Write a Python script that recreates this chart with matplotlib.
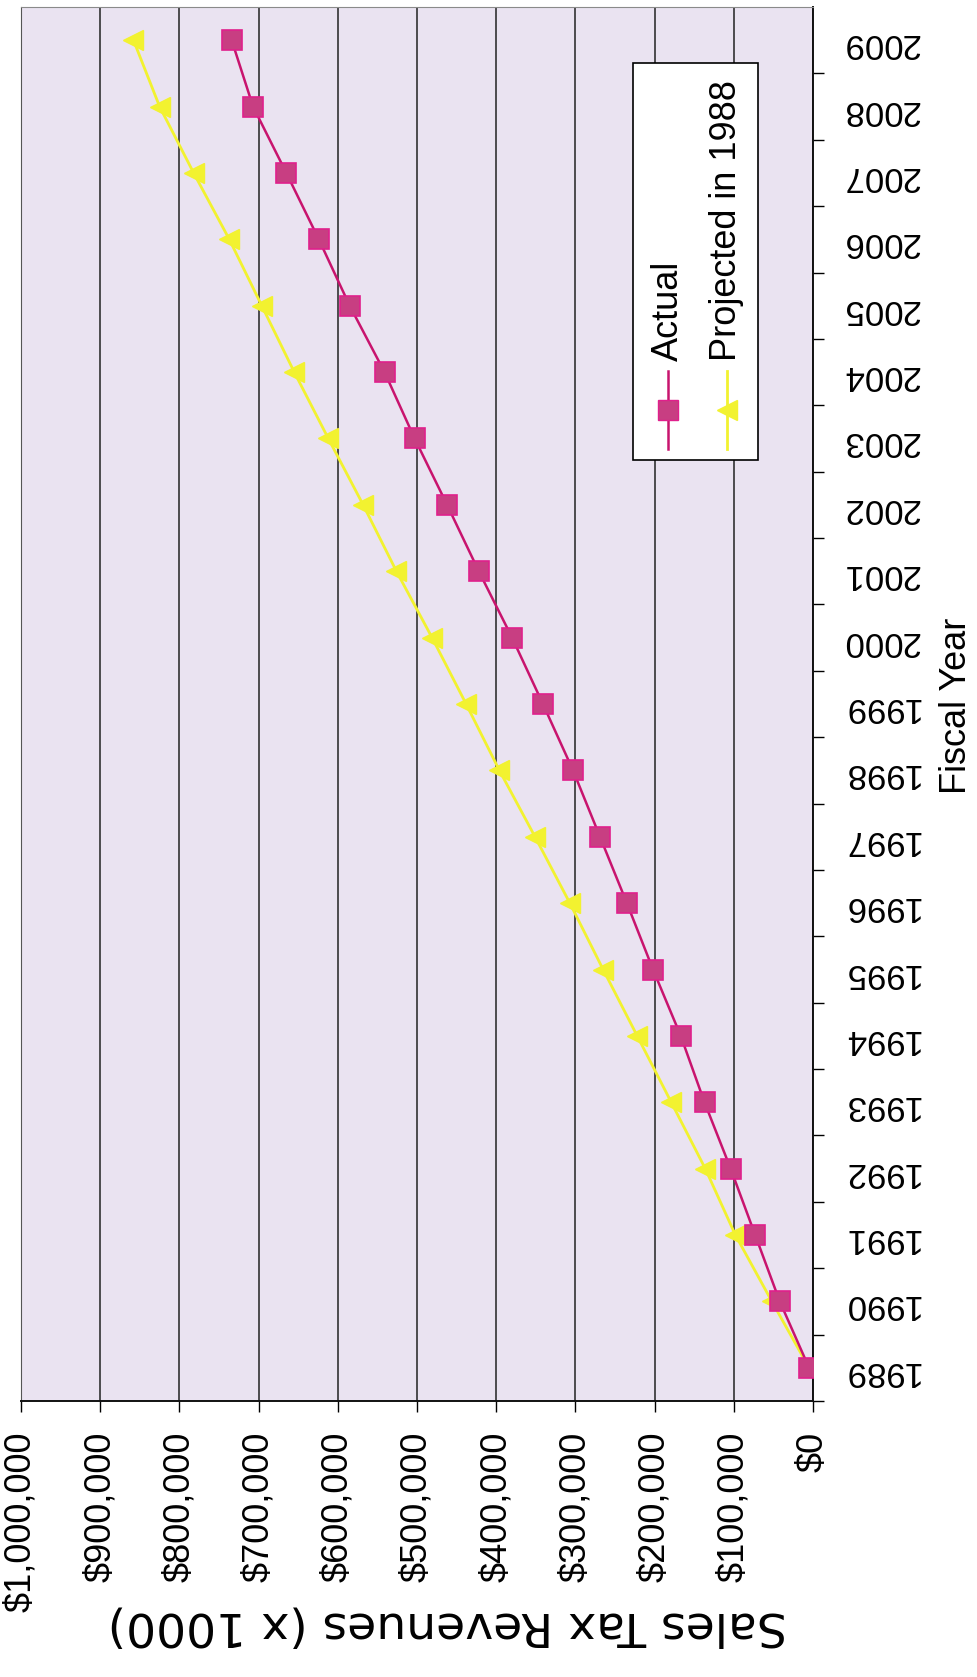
import matplotlib
matplotlib.use("Agg")
import matplotlib.pyplot as plt
from matplotlib.lines import Line2D
from matplotlib.patches import Rectangle
from matplotlib.ticker import FixedLocator, FuncFormatter

# Sales tax revenues (x $1000)
years = list(range(1989, 2010))
actual = [5000, 42000, 73000, 104000, 137000, 167000, 202000, 235000, 269000,
          303000, 341000, 380000, 422000, 462000, 503000, 541000, 585000,
          624000, 665000, 707000, 734000]
projected_1988 = [5000, 52000, 98000, 136000, 179000, 222000, 265000, 307000,
                  351000, 396000, 438000, 481000, 526000, 568000, 612000,
                  655000, 696000, 737000, 782000, 825000, 858000]
revenue_ticks = list(range(0, 1000001, 100000))

PINK_LINE = "#c8146e"
PINK_FACE = "#c83e82"
PINK_EDGE = "#e0208c"
YELLOW = "#f2f230"
LAVENDER = "#eae3f1"

plt.rcParams["font.family"] = ["Liberation Sans", "DejaVu Sans"]

# the page was scanned sideways: value axis runs right-to-left, years bottom-to-top
fig = plt.figure(figsize=(9.78, 16.77), dpi=100)
ax = fig.add_axes([0.0215, 0.1646, 0.8098, 0.8312])
ax.set_facecolor(LAVENDER)

for v in revenue_ticks:
    ax.axvline(v, color="#222222", lw=1.1, zorder=1)

ax.plot(actual, years, color=PINK_LINE, lw=1.8, marker="s", ms=15,
        mfc=PINK_FACE, mec=PINK_EDGE, mew=1.2, zorder=4)
ax.plot(projected_1988, years, color=YELLOW, lw=2.0, marker="<", ms=15,
        mfc=YELLOW, mec=YELLOW, zorder=3)

ax.set_xlim(1000000, 0)
ax.set_ylim(1988.5, 2009.5)

# value axis (bottom)
ax.xaxis.set_major_locator(FixedLocator(revenue_ticks))
ax.xaxis.set_major_formatter(FuncFormatter(lambda v, p: f"${v:,.0f}"))
ax.tick_params(axis="x", direction="out", length=8, width=1.0, pad=14,
               labelrotation=90, labelsize=26)

# category axis (right), tick marks between years
ax.yaxis.tick_right()
ax.set_yticks(years)
ax.set_yticklabels([str(y) for y in years])
ax.set_yticks([y + 0.5 for y in years[:-1]] + [years[0] - 0.5], minor=True)
ax.tick_params(axis="y", which="major", length=0, pad=21, labelsize=25,
               labelrotation=180)
ax.tick_params(axis="y", which="minor", direction="out", length=8, width=1.0)

ax.spines["bottom"].set_color("#111111")
ax.spines["right"].set_color("#111111")
ax.spines["bottom"].set_linewidth(1.4)
ax.spines["right"].set_linewidth(1.4)
ax.spines["top"].set_color("#8a8a8a")
ax.spines["left"].set_color("#555555")

fig.text(0.9785, 0.579, "Fiscal Year", rotation=90, ha="center", va="center",
         fontsize=26)
fig.text(0.457, 0.031, "Sales Tax Revenues (x 1000)", rotation=180,
         ha="center", va="center", fontsize=34, family="DejaVu Sans")

# legend box, drawn by hand since it is turned sideways
ax.add_patch(Rectangle((0.773, 0.675), 0.158, 0.285, transform=ax.transAxes,
                       facecolor="white", edgecolor="black", lw=1.2, zorder=5))
for x, label, kw in [
    (0.817, "Actual", dict(color=PINK_LINE, lw=1.8, marker="s", ms=15,
                           mfc=PINK_FACE, mec=PINK_EDGE)),
    (0.891, "Projected in 1988", dict(color=YELLOW, lw=2.0, marker="<", ms=15,
                                      mfc=YELLOW, mec=YELLOW)),
]:
    ax.add_line(Line2D([x, x, x], [0.683, 0.711, 0.739], transform=ax.transAxes,
                       markevery=[1], zorder=6, **kw))
    ax.text(x, 0.746, label, transform=ax.transAxes, rotation=90, ha="center",
            va="bottom", fontsize=26, zorder=6)

fig.savefig("out.png", dpi=100, facecolor="white")
